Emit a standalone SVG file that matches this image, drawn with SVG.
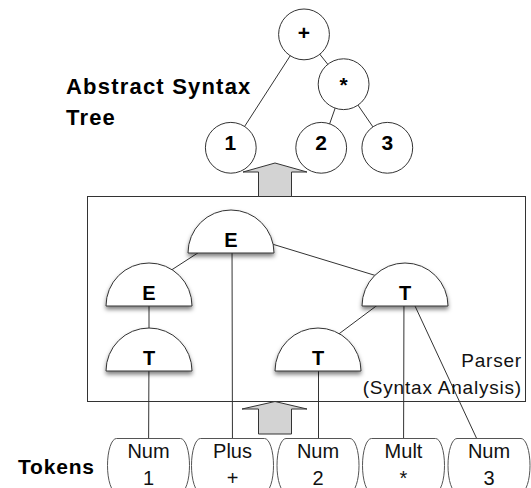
<svg xmlns="http://www.w3.org/2000/svg" width="531" height="488" viewBox="0 0 531 488">
<style>
.ln{stroke:#333;stroke-width:1;fill:none}
.circ{fill:#fff;stroke:#333;stroke-width:1}
.dome{fill:#fff;stroke:#333;stroke-width:1;filter:url(#sh)}
.tok{fill:#fff;stroke:#555;stroke-width:1}
.arr{fill:#d3d3d3;stroke:#333;stroke-width:1}
.nt{font-family:"Liberation Sans",Arial,sans-serif;font-weight:bold;font-size:20px;text-anchor:middle;fill:#000}
.ct{font-family:"Liberation Sans",Arial,sans-serif;font-weight:bold;font-size:21px;text-anchor:middle;fill:#000}
.tt{font-family:"Liberation Sans",Arial,sans-serif;font-size:20px;text-anchor:middle;fill:#111}
.lbl{font-family:"Liberation Sans",Arial,sans-serif;font-weight:bold;fill:#000}
.pl{font-family:"Liberation Sans",Arial,sans-serif;font-size:19px;letter-spacing:0.8px;text-anchor:end;fill:#111}
</style>
<defs>
<filter id="sh" x="-20%" y="-20%" width="140%" height="150%">
<feDropShadow dx="0" dy="3" stdDeviation="2" flood-color="#000" flood-opacity="0.5"/>
</filter>
</defs>

<rect id="parser-box" x="87.5" y="196.5" width="438" height="205" fill="#fff" stroke="#333" stroke-width="1"/>

<g id="arrows">
<path class="arr" d="M258.5,196.5 V172 H243 L275,163 L307,172 H291.5 V196.5 Z"/>
<path class="arr" d="M258.5,434 V409 H242 L275,401.5 L307,409 H291.5 V434 Z"/>
</g>

<g id="connectors">
<line class="ln" x1="304" y1="34.4" x2="230.8" y2="147.8"/>
<line class="ln" x1="304" y1="34.4" x2="343.6" y2="84.2"/>
<line class="ln" x1="343.6" y1="84.2" x2="321.2" y2="147.8"/>
<line class="ln" x1="343.6" y1="84.2" x2="387.3" y2="147.8"/>
<line class="ln" x1="231" y1="231.5" x2="149" y2="284.5"/>
<line class="ln" x1="231" y1="231.5" x2="405" y2="284.5"/>
<line class="ln" x1="232" y1="231.5" x2="232.5" y2="465"/>
<line class="ln" x1="149" y1="284.5" x2="149" y2="349.5"/>
<line class="ln" x1="149" y1="349.5" x2="148.5" y2="465"/>
<line class="ln" x1="405" y1="284.5" x2="318" y2="349.5"/>
<line class="ln" x1="404" y1="284.5" x2="403.5" y2="465"/>
<line class="ln" x1="405" y1="284.5" x2="489" y2="465"/>
<line class="ln" x1="318.5" y1="349.5" x2="318.5" y2="465"/>
</g>

<g id="ast-plus"><circle class="circ" cx="304" cy="34.4" r="25.4"/><text class="ct" x="304" y="39.5">+</text></g>
<g id="ast-mult"><circle class="circ" cx="343.6" cy="84.2" r="25.4"/><text class="ct" x="343.6" y="92">*</text></g>
<g id="ast-1"><circle class="circ" cx="230.8" cy="147.8" r="25.4"/><text class="ct" x="230.3" y="149.5">1</text></g>
<g id="ast-2"><circle class="circ" cx="321.2" cy="147.8" r="25.4"/><text class="ct" x="321.2" y="149.5">2</text></g>
<g id="ast-3"><circle class="circ" cx="387.3" cy="147.8" r="25.4"/><text class="ct" x="387.3" y="149.5">3</text></g>

<g id="pt-E-root"><path class="dome" d="M188,253 A43,43 0 0 1 274,253 Z"/><text class="nt" x="231" y="247">E</text></g>
<g id="pt-E-left"><path class="dome" d="M106,306 A43,43 0 0 1 192,306 Z"/><text class="nt" x="149" y="300">E</text></g>
<g id="pt-T-left"><path class="dome" d="M106,371 A43,43 0 0 1 192,371 Z"/><text class="nt" x="149" y="365">T</text></g>
<g id="pt-T-right"><path class="dome" d="M362,306 A43,43 0 0 1 448,306 Z"/><text class="nt" x="405" y="300">T</text></g>
<g id="pt-T-mid"><path class="dome" d="M275,371 A43,43 0 0 1 361,371 Z"/><text class="nt" x="318" y="365">T</text></g>

<g id="tok-num1"><rect class="tok" x="107.5" y="438.5" width="82" height="54" rx="9" ry="27"/><text class="tt" x="148.5" y="458">Num</text><text class="tt" x="148.5" y="485">1</text></g>
<g id="tok-plus"><rect class="tok" x="191.5" y="438.5" width="82" height="54" rx="9" ry="27"/><text class="tt" x="232.5" y="458">Plus</text><text class="tt" x="232.5" y="485">+</text></g>
<g id="tok-num2"><rect class="tok" x="277" y="438.5" width="82" height="54" rx="9" ry="27"/><text class="tt" x="318" y="458">Num</text><text class="tt" x="318" y="485">2</text></g>
<g id="tok-mult"><rect class="tok" x="362.5" y="438.5" width="82" height="54" rx="9" ry="27"/><text class="tt" x="403.5" y="458">Mult</text><text class="tt" x="403.5" y="485">*</text></g>
<g id="tok-num3"><rect class="tok" x="448" y="438.5" width="82" height="54" rx="9" ry="27"/><text class="tt" x="489" y="458">Num</text><text class="tt" x="489" y="485">3</text></g>

<g id="labels">
<text class="lbl" x="66" y="94" font-size="22" letter-spacing="1.2">Abstract Syntax</text>
<text class="lbl" x="66" y="125" font-size="22" letter-spacing="1.2">Tree</text>
<text class="lbl" x="18" y="474" font-size="21" letter-spacing="0.8">Tokens</text>
<text class="pl" x="522" y="367">Parser</text>
<text class="pl" x="522" y="394">(Syntax Analysis)</text>
</g>
</svg>
